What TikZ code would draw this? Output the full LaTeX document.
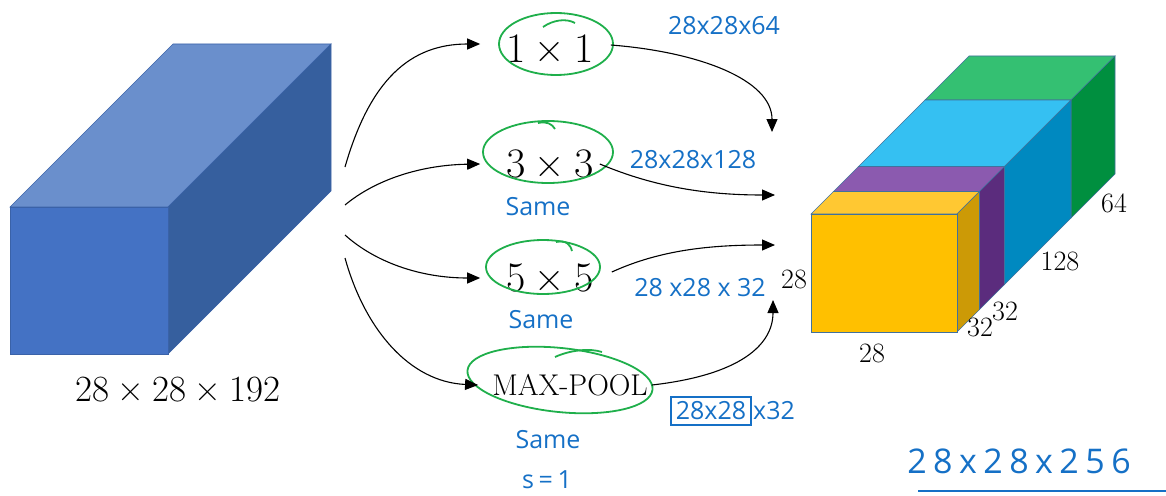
\documentclass[tikz,border=0pt]{standalone}
\usepackage{fontspec}
\newfontfamily\handfont{Open Sans}
\newfontfamily\handwide{Open Sans}[LetterSpace=19]
\usetikzlibrary{arrows.meta, positioning}
\newcommand{\mult}{\hspace{0.22em}×\hspace{0.22em}}
\definecolor{cubefront}{HTML}{4472C4}
\definecolor{cubetop}{HTML}{6A8FCC}
\definecolor{cubeside}{HTML}{365F9E}
\definecolor{cubeline}{HTML}{3A62A8}
\definecolor{stackline}{HTML}{41719C}
\definecolor{yellowfront}{HTML}{FFC000}
\definecolor{yellowtop}{HTML}{FFC832}
\definecolor{yellowside}{HTML}{CC9A06}
\definecolor{purpletop}{HTML}{8B5AAF}
\definecolor{purpleside}{HTML}{5B2C7D}
\definecolor{bluetop}{HTML}{35C0F2}
\definecolor{blueside}{HTML}{0089C0}
\definecolor{greentop}{HTML}{34C072}
\definecolor{greenside}{HTML}{008F3F}
\definecolor{inkblue}{HTML}{1570C6}
\definecolor{ringgreen}{HTML}{1FAF4B}
\tikzset{
  op/.style={inner ysep=2pt, inner xsep=26pt, font=\fontsize{42}{46}\selectfont},
  dim/.style={inner sep=0pt, font=\fontsize{28}{30}\selectfont},
  hand/.style={inner sep=0pt, text=inkblue, font=\handfont\fontsize{25}{28}\selectfont},
  ring/.style={draw=ringgreen, line width=1.8pt},
  ink/.style={draw=inkblue, line width=1.6pt},
  facet/.style={draw=cubeline, line width=0.6pt},
  arrow/.style={-{Triangle[length=13pt,width=11pt]}, line width=1.1pt},
}

\begin{document}
\begin{tikzpicture}[x=1pt, y=-1pt]
  \useasboundingbox (0,0) rectangle (1166,495);

  % input volume
  \filldraw[facet, fill=cubetop]  (10,207) -- (173,44) -- (331,44) -- (168,207) -- cycle;
  \filldraw[facet, fill=cubeside] (168,207) -- (331,44) -- (331,191) -- (168,354) -- cycle;
  \filldraw[facet, fill=cubefront] (10,207) rectangle (168,354);
  \node[font=\fontsize{37}{40}\selectfont] (inlbl) at (178,390) {28\mult 28\mult 192};

  \coordinate (src1) at (345,167);
  \coordinate (src2) at (345,205);
  \coordinate (src3) at (345,235);
  \coordinate (src4) at (345,258);

  % branches
  \node[op] (conv1) at (550,49)  {1\mult 1};
  \node[op] (conv3) at (550,164) {3\mult 3};
  \node[op] (conv5) at (550,278) {5\mult 5};
  \node[op, inner xsep=14pt, font=\fontsize{30}{32}\selectfont] (pool) at (570,385) {MAX-POOL};

  \draw[ring] (556,44) ellipse [x radius=57pt, y radius=31pt];
  \draw[ring] (543,27) .. controls (553,20) and (566,18) .. (575,23);
  \draw[ring] (548,152) ellipse [x radius=65pt, y radius=31pt];
  \draw[ring] (538,123) .. controls (547,121) and (552,124) .. (555,129);
  \draw[ring] (543,267) ellipse [x radius=57pt, y radius=27pt];
  \draw[ring] (556,242) .. controls (566,240) and (570,244) .. (572,251);
  \draw[ring, rotate around={-6:(560,380)}] (560,380) ellipse [x radius=93pt, y radius=32pt];
  \draw[ring] (555,357) .. controls (570,350) and (590,348) .. (602,352);

  \draw[arrow] (src1) .. controls (370,80) and (410,44) .. ([yshift=5pt]conv1.west);
  \draw[arrow] (src2) .. controls (375,180) and (420,165) .. (conv3.west);
  \draw[arrow] (src3) .. controls (375,262) and (420,278) .. (conv5.west);
  \draw[arrow] (src4) .. controls (365,330) and (410,382) .. (pool.west);

  % output volume
  \foreach \a/\b/\ct/\cs in {114/158/greentop/greenside, 47.5/114/bluetop/blueside,
                             22.5/47.5/purpletop/purpleside, 0/22.5/yellowtop/yellowside}{
    \filldraw[facet, draw=stackline, fill=\ct] ({811+\a},{214-\a}) -- ({811+\b},{214-\b})
      -- ({957+\b},{214-\b}) -- ({957+\a},{214-\a}) -- cycle;
    \filldraw[facet, draw=stackline, fill=\cs] ({957+\a},{214-\a}) -- ({957+\b},{214-\b})
      -- ({957+\b},{332-\b}) -- ({957+\a},{332-\a}) -- cycle;
  }
  \filldraw[facet, draw=stackline, fill=yellowfront] (811,214) rectangle (957,332);

  \node[dim] (hgt) at (794,279)  {28};
  \node[dim] (wid) at (872,353)  {28};
  \node[dim] (dp1) at (980,327)  {32};
  \node[dim] (dp2) at (1005,311) {32};
  \node[dim] (dp3) at (1060,261) {128};
  \node[dim] (dp4) at (1114,203) {64};

  \coordinate (out1) at (772,132);
  \coordinate (out3) at (775,195);
  \coordinate (out5) at (775,245);
  \coordinate (outp) at (773,300);

  \draw[arrow] ([xshift=-9pt,yshift=4pt]conv1.east) .. controls (700,52) and (772,80) .. (out1);
  \draw[arrow] ([xshift=-20pt]conv3.east) .. controls (650,185) and (700,195) .. (out3);
  \draw[arrow] ([xshift=-8pt,yshift=6pt]conv5.east) .. controls (660,250) and (710,245) .. (out5);
  \draw[arrow] ([xshift=-10pt]pool.east) .. controls (740,375) and (773,345) .. (outp);

  % handwritten notes
  \node[hand] (sz1) at (724,26)  {28x28x64};
  \node[hand] (sz3) at (693,160) {28x28x128};
  \node[hand] (sz5) at (700,288) {28 x28 x 32};
  \node[hand, ink, inner sep=5pt] (szp) at (711,411) {28x28};
  \node[hand, right=1pt of szp] (szc) {x32};
  \node[hand] (same3) at (538,207) {Same};
  \node[hand] (same5) at (541,320) {Same};
  \node[hand] (samep) at (548,440) {Same};
  \node[hand, font=\handwide\fontsize{25}{28}\selectfont] (stride) at (547,480) {s=1};
  \node[hand, font=\handwide\fontsize{34}{36}\selectfont] (total) at (1019,461) {28x28x256};
  \draw[ink] (918,491) -- (1166,491);
\end{tikzpicture}
\end{document}
